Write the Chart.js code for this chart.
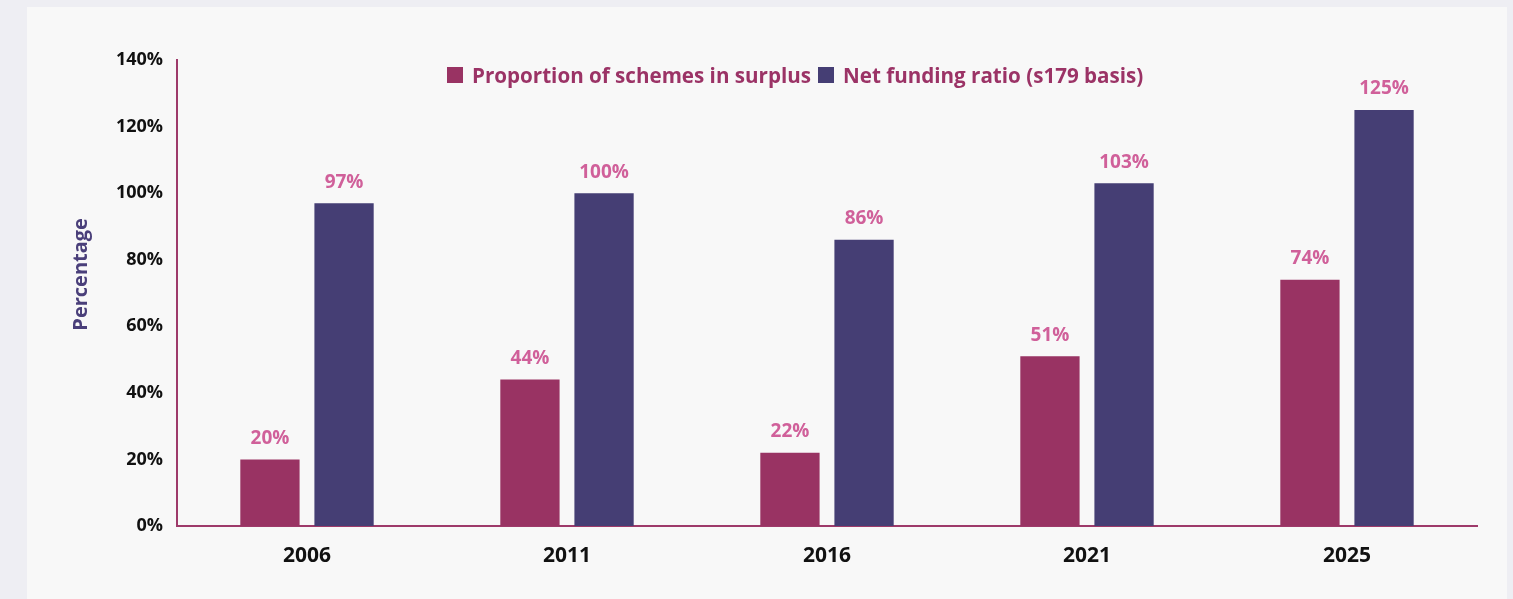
<!DOCTYPE html>
<html>
<head>
<meta charset="utf-8">
<script src="https://cdn.jsdelivr.net/npm/chart.js@4"></script>
<style>
  html, body { margin: 0; padding: 0; background: #eeeef3; }
  #panel {
    position: absolute; left: 27px; top: 7px;
    width: 1480px; height: 592px; background: #f8f8f8;
  }
  #leyenda {
    position: absolute; left: 420px; top: 57px; height: 22px;
    display: flex; align-items: center;
    font: bold 20.6px "Open Sans", sans-serif; color: #9b3366; white-space: nowrap;
  }
  #leyenda .item { display: flex; align-items: center; margin-right: 7px; }
  #leyenda .caja { width: 16px; height: 16px; margin-right: 9px; }
</style>
</head>
<body>
<div id="panel">
  <canvas id="chartFondeo"></canvas>
  <div id="leyenda"></div>
</div>
<script>
const anios = ["2006", "2011", "2016", "2021", "2025"];
const superavit = [20, 44, 22, 51, 74];
const fondeoNeto = [97, 100, 86, 103, 125];
const ticksY = [0, 20, 40, 60, 80, 100, 120, 140];

const series = [
  { label: "Proportion of schemes in surplus", data: superavit, color: "#993363" },
  { label: "Net funding ratio (s179 basis)", data: fondeoNeto, color: "#453e74" },
];

const FUENTE = '"Open Sans", sans-serif';

// Etiquetas de valor encima de cada barra
const etiquetasBarras = {
  id: "etiquetasBarras",
  afterDatasetsDraw(chart) {
    const ctx = chart.ctx;
    ctx.save();
    ctx.font = "bold 19px " + FUENTE;
    ctx.fillStyle = "#d0609a";
    ctx.textAlign = "center";
    ctx.textBaseline = "middle";
    chart.data.datasets.forEach((ds, i) => {
      chart.getDatasetMeta(i).data.forEach((bar, j) => {
        ctx.fillText(ds.data[j] + "%", bar.x, bar.y - 21);
      });
    });
    ctx.restore();
  },
};

// Título del eje Y, algo por encima del centro del área
const tituloEjeY = {
  id: "tituloEjeY",
  afterDraw(chart) {
    const { ctx, chartArea } = chart;
    ctx.save();
    ctx.translate(54, chartArea.top + chartArea.height * 0.46);
    ctx.rotate(-Math.PI / 2);
    ctx.font = "bold 20px " + FUENTE;
    ctx.fillStyle = "#4a3f7a";
    ctx.textAlign = "center";
    ctx.textBaseline = "middle";
    ctx.fillText("Percentage", 0, 0);
    ctx.restore();
  },
};

new Chart(document.getElementById("chartFondeo"), {
  type: "bar",
  data: {
    labels: anios,
    datasets: series.map((s) => ({
      label: s.label,
      data: s.data,
      backgroundColor: s.color,
      categoryPercentage: 0.57,
      barPercentage: 0.8,
    })),
  },
  options: {
    responsive: true,
    maintainAspectRatio: false,
    animation: false,
    layout: { padding: { top: 53, right: 30, bottom: 0, left: 0 } },
    plugins: {
      legend: { display: false },
      tooltip: { enabled: false },
    },
    scales: {
      x: {
        grid: { display: false, drawTicks: false },
        border: { color: "#9e3a6a", width: 2 },
        ticks: { color: "#111", padding: 17, font: { family: FUENTE, size: 21, weight: "bold" } },
        afterFit: (scale) => { scale.height = 73; },
      },
      y: {
        min: 0,
        max: 140,
        afterBuildTicks: (scale) => { scale.ticks = ticksY.map((v) => ({ value: v })); },
        grid: { display: false, drawTicks: false },
        border: { color: "#9e3a6a", width: 2 },
        ticks: {
          color: "#111",
          padding: 14,
          font: { family: FUENTE, size: 18, weight: "bold" },
          callback: (v) => v + "%",
        },
        afterFit: (scale) => { scale.width = 150; },
      },
    },
  },
  plugins: [etiquetasBarras, tituloEjeY],
});

// Leyenda en HTML sobre el área del gráfico
document.getElementById("leyenda").innerHTML = series
  .map(
    (s) => `<div class="item"><span class="caja" style="background:${s.color}"></span>${s.label}</div>`,
  )
  .join("");
</script>
</body>
</html>
